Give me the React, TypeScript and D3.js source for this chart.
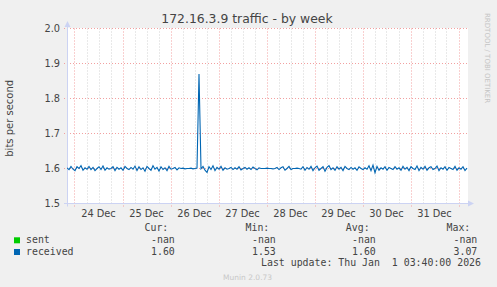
import React from "react";
import * as d3 from "d3";

const TITLE = "172.16.3.9 traffic - by week";
const Y_LABEL = "bits per second";
const Y_TICKS = [1.5, 1.6, 1.7, 1.8, 1.9, 2.0];
const START = Date.UTC(2025, 11, 23, 20, 15);
const END = Date.UTC(2026, 0, 1, 4, 15);
const SERIES_NAMES = ["sent", "received"];
const SERIES_COLORS = ["#00cc00", "#0066b3"];
const CUR = ["-nan", "1.60"];
const MIN = ["-nan", "1.53"];
const AVG = ["-nan", "1.60"];
const MAX = ["-nan", "3.07"];
const LAST_UPDATE = "Last update: Thu Jan  1 03:40:00 2026";

// hourly samples of "received", starting at START
const RECEIVED = [
  1.602, 1.597, 1.606, 1.598, 1.594, 1.605, 1.6, 1.608, 1.595, 1.602, 1.598, 1.606, 1.597, 1.603, 1.594, 1.6, 1.605,
  1.597, 1.607, 1.595, 1.602, 1.598, 1.6, 1.605, 1.594, 1.603, 1.598, 1.602, 1.595, 1.606, 1.6, 1.597, 1.603,
  1.598, 1.607, 1.594, 1.605, 1.597, 1.602, 1.592, 1.606, 1.6, 1.595, 1.608, 1.598, 1.603, 1.593, 1.605, 1.597,
  1.602, 1.594, 1.606, 1.598, 1.6, 1.603, 1.596, 1.602,
  1.6, 1.601, 1.599, 1.6, 1.6, 1.601, 1.599, 1.6,
  1.601, 1.87, 1.599,
  1.606, 1.595, 1.589, 1.605, 1.597, 1.608, 1.594, 1.603, 1.598, 1.606, 1.595, 1.602, 1.598,
  1.6, 1.603, 1.597, 1.602, 1.598, 1.605, 1.596, 1.6, 1.603, 1.598, 1.602, 1.597, 1.604, 1.6, 1.596, 1.602, 1.6,
  1.6, 1.6, 1.601, 1.6, 1.6, 1.599, 1.6,
  1.603, 1.597, 1.602, 1.605, 1.595, 1.6, 1.606, 1.597, 1.6, 1.6, 1.601, 1.6, 1.598, 1.605, 1.595, 1.603,
  1.598, 1.606, 1.594, 1.602, 1.607, 1.595, 1.6, 1.605, 1.592, 1.603, 1.608, 1.597,
  1.602, 1.595, 1.605, 1.598, 1.603, 1.594, 1.606, 1.6, 1.597, 1.603, 1.598, 1.602, 1.595, 1.605, 1.6, 1.597,
  1.602, 1.598, 1.608, 1.594, 1.61, 1.588, 1.606, 1.595, 1.602, 1.598, 1.605, 1.595, 1.603, 1.6, 1.597, 1.605, 1.598,
  1.602, 1.595, 1.606, 1.598, 1.603, 1.594, 1.605, 1.6, 1.597, 1.607, 1.594, 1.603, 1.598, 1.606, 1.595, 1.602,
  1.605, 1.597, 1.6, 1.607, 1.594, 1.602, 1.598, 1.605, 1.595, 1.603, 1.6, 1.597, 1.606, 1.595, 1.602, 1.598,
  1.605, 1.594, 1.601,
];

const W = 497;
const H = 287;
const PL = 67;
const PR = 467;
const PT = 28.5;
const PB = 203.5;

const FONT = "'DejaVu Sans', sans-serif";
const MONO = "'DejaVu Sans Mono', monospace";
const TEXT = "#444";
const AXIS = "#ccd3f3";
const MINOR = "#d2d2d2";
const MAJOR = "#f2a0a0";

export default function App() {
  const x = d3.scaleUtc().domain([new Date(START), new Date(END)]).range([PL, PR]);
  const y = d3.scaleLinear().domain([1.5, 2.0]).range([PB, PT]);

  const minorTicks = d3.utcHour.every(6)!.range(new Date(START), new Date(END));
  const dayTicks = d3.utcDay.range(new Date(START), new Date(END));
  const labelDays = dayTicks.filter((d) => +d3.utcHour.offset(d, 12) < END);
  const fmt = d3.utcFormat("%d %b");

  const pts: [number, number][] = RECEIVED.map((v, i) => [+d3.utcHour.offset(new Date(START), i), v]);
  const line = d3
    .line<[number, number]>()
    .x((d) => x(new Date(d[0])))
    .y((d) => y(d[1]));

  const px = (v: number) => Math.round(v) + 0.5;

  const colCur = 151;
  const colMin = 252;
  const colAvg = 352;
  const colMax = 453.5;

  return (
    <svg
      width={W}
      height={H}
      style={{ position: "absolute", left: 0, top: 0, background: "#f0f0f0" }}
      xmlns="http://www.w3.org/2000/svg"
    >
      <rect x={0} y={0} width={W} height={H} fill="#f0f0f0" />
      <rect x={PL} y={28} width={PR - PL + 1} height={176} fill="#ffffff" />
      <defs>
        <clipPath id="plot">
          <rect x={PL} y={20} width={PR - PL + 1} height={184} />
        </clipPath>
      </defs>

      {/* minor vertical grid */}
      {minorTicks
        .filter((d) => d.getUTCHours() !== 0)
        .map((d, i) => (
          <line
            key={"mv" + i}
            x1={px(x(d))}
            x2={px(x(d))}
            y1={PT}
            y2={PB}
            stroke={MINOR}
            strokeDasharray="1,2"
          />
        ))}
      {/* major vertical grid */}
      {dayTicks.map((d, i) => (
        <line
          key={"Mv" + i}
          x1={px(x(d))}
          x2={px(x(d))}
          y1={PT}
          y2={PB + 3}
          stroke={MAJOR}
          strokeDasharray="1,2"
        />
      ))}
      {/* major horizontal grid */}
      {Y_TICKS.map((t, i) => (
        <line
          key={"Mh" + i}
          x1={PL - 3}
          x2={PR + 1}
          y1={y(t)}
          y2={y(t)}
          stroke={MAJOR}
          strokeDasharray="1,2"
        />
      ))}

      {/* axes */}
      <line x1={PL + 0.5} x2={PL + 0.5} y1={PB + 3} y2={23} stroke={AXIS} />
      <path d={`M${PL - 2.5},${27} L${PL + 3.5},${27} L${PL + 0.5},${21} Z`} fill={AXIS} />
      <line x1={PL - 3} x2={PR + 2} y1={PB} y2={PB} stroke={AXIS} />
      <path d={`M${PR + 1},${PB - 3} L${PR + 1},${PB + 3} L${PR + 7},${PB} Z`} fill={AXIS} />

      {/* data */}
      <g clipPath="url(#plot)">
        <path d={line(pts) || ""} fill="none" stroke={SERIES_COLORS[1]} strokeWidth={1.1} />
      </g>

      {/* y tick labels */}
      {Y_TICKS.map((t, i) => (
        <text key={"yl" + i} x={60} y={y(t) + 3.6} textAnchor="end" fontFamily={FONT} fontSize={9.8} fill={TEXT}>
          {t.toFixed(1)}
        </text>
      ))}
      {/* x tick labels */}
      {labelDays.map((d, i) => (
        <text
          key={"xl" + i}
          x={x(d3.utcHour.offset(d, 12))}
          y={216.5}
          textAnchor="middle"
          fontFamily={FONT}
          fontSize={9.8}
          fill={TEXT}
        >
          {fmt(d)}
        </text>
      ))}

      {/* title */}
      <text x={247} y={22.8} textAnchor="middle" fontFamily={FONT} fontSize={12.4} fill={TEXT}>
        {TITLE}
      </text>
      {/* y label */}
      <text
        transform="translate(12.6,118.3) rotate(-90)"
        textAnchor="middle"
        fontFamily={FONT}
        fontSize={10}
        fill={TEXT}
      >
        {Y_LABEL}
      </text>
      {/* watermark */}
      <text transform="translate(485,13) rotate(90)" fontFamily={FONT} fontSize={7} fill="#c4c4c4">
        RRDTOOL / TOBI OETIKER
      </text>

      {/* legend */}
      <g fontFamily={MONO} fontSize={9.9} fill={TEXT}>
        <text x={144.5} y={231}>Cur:</text>
        <text x={245.5} y={231}>Min:</text>
        <text x={345.8} y={231}>Avg:</text>
        <text x={446.5} y={231}>Max:</text>
        {SERIES_NAMES.map((n, i) => {
          const by = 243.3 + i * 11.7;
          return (
            <g key={n}>
              <rect x={14} y={by - 6} width={6} height={6} fill={SERIES_COLORS[i]} />
              <text x={26} y={by}>{n}</text>
              <text x={colCur} y={by}>{CUR[i]}</text>
              <text x={colMin} y={by}>{MIN[i]}</text>
              <text x={colAvg} y={by}>{AVG[i]}</text>
              <text x={colMax} y={by}>{MAX[i]}</text>
            </g>
          );
        })}
        <text x={261} y={266.3} style={{ whiteSpace: "pre" }} xmlSpace="preserve">
          {LAST_UPDATE}
        </text>
      </g>
      <text x={223} y={279.5} fontFamily={FONT} fontSize={7.5} fill="#c8c8c8">
        Munin 2.0.73
      </text>
    </svg>
  );
}
